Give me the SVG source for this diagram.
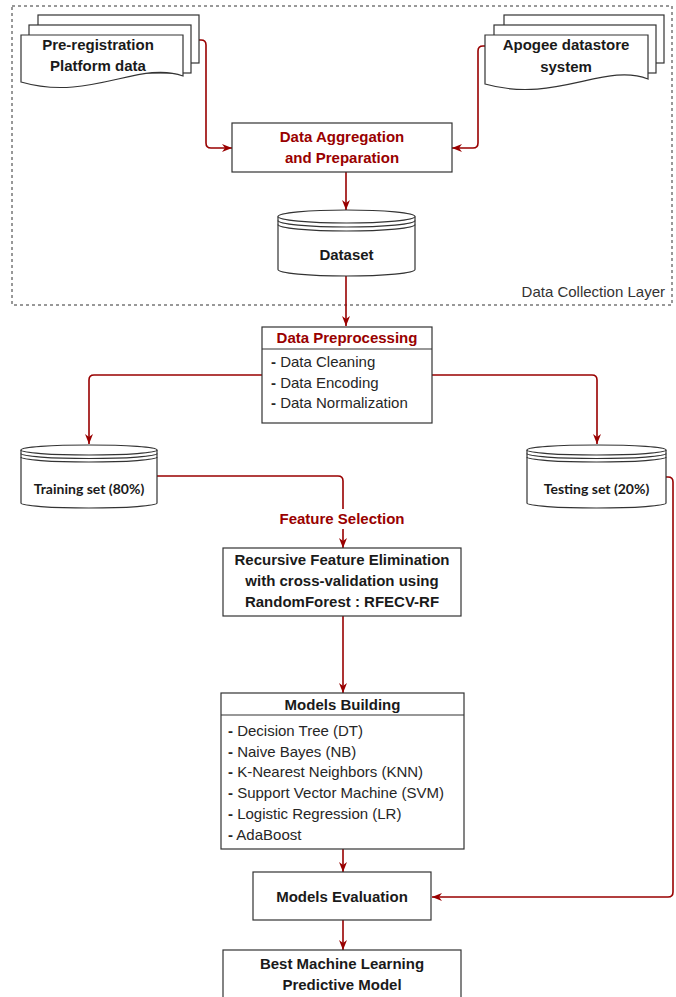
<svg xmlns="http://www.w3.org/2000/svg" width="676" height="997" viewBox="0 0 676 997">
<defs>
<style>
.box{fill:#fff;stroke:#333;stroke-width:1.2}
.cyl{fill:#fff;stroke:#333;stroke-width:1.2}
.ln{fill:none;stroke:#333;stroke-width:1.2}
.con{fill:none;stroke:#990000;stroke-width:1.6}
.b{font-family:"Liberation Sans",Arial,sans-serif;font-weight:bold;font-size:15px;fill:#1a1a1a;text-anchor:middle}
.r{font-family:"Liberation Sans",Arial,sans-serif;font-weight:bold;font-size:15px;fill:#990000;text-anchor:middle}
.it{font-family:"Liberation Sans",Arial,sans-serif;font-size:15px;fill:#262626}
.d{font-weight:bold}
.c{font-family:Lato,"Open Sans",sans-serif;font-weight:bold;font-size:14px;fill:#1a1a1a;text-anchor:middle}
.lay{font-family:"Liberation Sans",Arial,sans-serif;font-size:15px;fill:#333}
</style>
<marker id="arr" viewBox="0 0 10 8" refX="10" refY="4" markerWidth="10" markerHeight="8" markerUnits="userSpaceOnUse" orient="auto">
<path d="M0,0 L10,4 L0,8 L3,4 Z" fill="#990000"/>
</marker>
</defs>

<g id="data-collection-layer">
<rect x="12" y="6" width="660" height="299" fill="none" stroke="#333" stroke-width="1" stroke-dasharray="3,3"/>
<text class="lay" x="665" y="297" text-anchor="end">Data Collection Layer</text>
</g>

<g id="connectors">
<path class="con" d="M199,40 L201,40 Q206,40 206,45 L206,143 Q206,148 211,148 L232,148" marker-end="url(#arr)"/>
<path class="con" d="M485,46 L483,46 Q478,46 478,51 L478,143 Q478,148 473,148 L452,148" marker-end="url(#arr)"/>
<path class="con" d="M346,172 L346,210" marker-end="url(#arr)"/>
<path class="con" d="M346,276 L346,326" marker-end="url(#arr)"/>
<path class="con" d="M262,375 L94,375 Q89,375 89,380 L89,444" marker-end="url(#arr)"/>
<path class="con" d="M432,375 L592,375 Q597,375 597,380 L597,444" marker-end="url(#arr)"/>
<path class="con" d="M157,476 L338,476 Q343,476 343,481 L343,548" marker-end="url(#arr)"/>
<path class="con" d="M666,477 L668,477 Q673,477 673,482 L673,892 Q673,897 668,897 L432,897" marker-end="url(#arr)"/>
<path class="con" d="M343,616 L343,693" marker-end="url(#arr)"/>
<path class="con" d="M343,849 L343,872" marker-end="url(#arr)"/>
<path class="con" d="M343,920 L343,950" marker-end="url(#arr)"/>
<rect x="276" y="509" width="133" height="20" fill="#fff"/>
<text class="r" x="342" y="524">Feature Selection</text>
</g>

<g id="pre-registration">
<rect class="box" x="38" y="15" width="161" height="48"/>
<rect class="box" x="29" y="25" width="162" height="48"/>
<path class="box" d="M21,35 L183,35 L183,76 C140,60 90,102 21,82 Z"/>
<text class="b" x="98" y="50">Pre-registration</text>
<text class="b" x="98" y="71">Platform data</text>
</g>

<g id="apogee">
<rect class="box" x="504" y="15" width="160" height="48"/>
<rect class="box" x="494" y="25" width="162" height="48"/>
<path class="box" d="M485,35 L648,35 L648,79 C605,62 555,104 485,84 Z"/>
<text class="b" x="566" y="50">Apogee datastore</text>
<text class="b" x="566" y="72">system</text>
</g>

<g id="aggregation">
<rect class="box" x="232" y="123" width="220" height="49"/>
<text class="r" x="342" y="142">Data Aggregation</text>
<text class="r" x="342" y="163">and Preparation</text>
</g>

<g id="dataset">
<path class="cyl" d="M278,216.5 L278,269.5 A68.5,6.5 0 0 0 415,269.5 L415,216.5"/>
<ellipse class="cyl" cx="346.5" cy="216.5" rx="68.5" ry="6.5"/>
<path class="ln" d="M278,220.5 A68.5,6.5 0 0 0 415,220.5"/>
<path class="ln" d="M278,224.5 A68.5,6.5 0 0 0 415,224.5"/>
<text class="b" x="346.5" y="260">Dataset</text>
</g>

<g id="preprocessing">
<rect class="box" x="262" y="327" width="170" height="96"/>
<line class="ln" x1="262" y1="349" x2="432" y2="349"/>
<text class="r" x="347" y="343">Data Preprocessing</text>
<text class="it" x="271" y="367"><tspan class="d">-</tspan> Data Cleaning</text>
<text class="it" x="271" y="388"><tspan class="d">-</tspan> Data Encoding</text>
<text class="it" x="271" y="408"><tspan class="d">-</tspan> Data Normalization</text>
</g>

<g id="training">
<path class="cyl" d="M21,450 L21,503 A68,5 0 0 0 157,503 L157,450"/>
<ellipse class="cyl" cx="89" cy="450" rx="68" ry="5"/>
<path class="ln" d="M21,453.5 A68,5 0 0 0 157,453.5"/>
<path class="ln" d="M21,457 A68,5 0 0 0 157,457"/>
<text class="c" x="89" y="494">Training set (80%)</text>
</g>

<g id="testing">
<path class="cyl" d="M527,450 L527,503 A69.5,5 0 0 0 666,503 L666,450"/>
<ellipse class="cyl" cx="596.5" cy="450" rx="69.5" ry="5"/>
<path class="ln" d="M527,453.5 A69.5,5 0 0 0 666,453.5"/>
<path class="ln" d="M527,457 A69.5,5 0 0 0 666,457"/>
<text class="c" x="596.5" y="494">Testing set (20%)</text>
</g>

<g id="rfecv">
<rect class="box" x="223" y="548" width="238" height="68"/>
<text class="b" x="342" y="565">Recursive Feature Elimination</text>
<text class="b" x="342" y="586">with cross-validation using</text>
<text class="b" x="342" y="607">RandomForest : RFECV-RF</text>
</g>

<g id="models-building">
<rect class="box" x="221" y="693" width="243" height="156"/>
<line class="ln" x1="221" y1="715" x2="464" y2="715"/>
<text class="b" x="342.5" y="710">Models Building</text>
<text class="it" x="228" y="736"><tspan class="d">-</tspan> Decision Tree (DT)</text>
<text class="it" x="228" y="757"><tspan class="d">-</tspan> Naive Bayes (NB)</text>
<text class="it" x="228" y="777"><tspan class="d">-</tspan> K-Nearest Neighbors (KNN)</text>
<text class="it" x="228" y="798"><tspan class="d">-</tspan> Support Vector Machine (SVM)</text>
<text class="it" x="228" y="819"><tspan class="d">-</tspan> Logistic Regression (LR)</text>
<text class="it" x="228" y="840"><tspan class="d">-</tspan> AdaBoost</text>
</g>

<g id="models-evaluation">
<rect class="box" x="253" y="872" width="178" height="48"/>
<text class="b" x="342" y="902">Models Evaluation</text>
</g>

<g id="best-model">
<rect class="box" x="223" y="950" width="238" height="60"/>
<text class="b" x="342" y="969">Best Machine Learning</text>
<text class="b" x="342" y="990">Predictive Model</text>
</g>
</svg>
